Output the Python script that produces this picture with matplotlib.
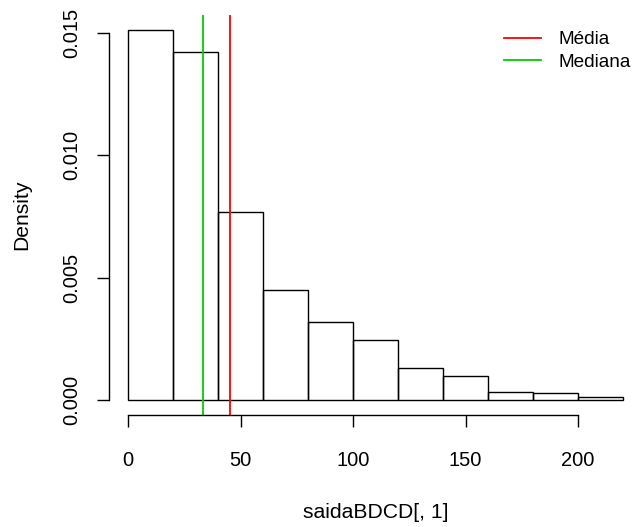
import numpy as np
import matplotlib.pyplot as plt

plt.rcParams['font.family'] = ['Liberation Sans', 'DejaVu Sans']

# histogram bins (width 20) and density of each bin
bin_edges = [0, 20, 40, 60, 80, 100, 120, 140, 160, 180, 200, 220]
densities = [0.01512, 0.01421, 0.00769, 0.00449, 0.00319, 0.00244,
             0.00131, 0.00097, 0.00034, 0.00030, 0.00013]
media = 45.4
mediana = 33.2

x_ticks = [0, 50, 100, 150, 200]
y_ticks = [0.000, 0.005, 0.010, 0.015]
y_ticklabels = ['0.000', '0.005', '0.010', '0.015']

fig = plt.figure(figsize=(6.34, 5.27), dpi=100)
# plot region runs a little past the right edge of the figure
ax = fig.add_axes([108.5 / 634, 1 - 415 / 527, (642.9 - 108.5) / 634, 400 / 527])

edges = np.array(bin_edges)
ax.bar(edges[:-1], densities, width=np.diff(edges), align='edge',
       fill=False, edgecolor='black', linewidth=1.0)

ax.axvline(media, color='#FF0000', linewidth=1.3, label='Média')
ax.axvline(mediana, color='#00CD00', linewidth=1.3, label='Mediana')

# R-style axis extents: 4% padding around the data range
xr = edges[-1] - edges[0]
ymax = max(densities)
ax.set_xlim(edges[0] - 0.04 * xr, edges[-1] + 0.04 * xr)
ax.set_ylim(-0.04 * ymax, ymax * 1.04)

for s in ['top', 'right']:
    ax.spines[s].set_visible(False)
ax.spines['bottom'].set_bounds(x_ticks[0], x_ticks[-1])
ax.spines['left'].set_bounds(y_ticks[0], y_ticks[-1])
ax.spines['bottom'].set_linewidth(1.0)
ax.spines['left'].set_linewidth(1.0)

ax.set_xticks(x_ticks)
ax.set_yticks(y_ticks)
ax.set_yticklabels(y_ticklabels, rotation=90, va='center')
ax.tick_params(axis='x', length=8.6, width=1.0, pad=17, labelsize=14.5)
ax.tick_params(axis='y', length=8.6, width=1.0, pad=11, labelsize=14.5)

ax.set_xlabel('saidaBDCD[, 1]', fontsize=15.2)
ax.set_ylabel('Density', fontsize=15.2)
ax.xaxis.set_label_coords(0.5, -0.245)
ax.xaxis.label.set_va('center')
ax.yaxis.set_label_coords(-0.162, 0.5)
ax.yaxis.label.set_va('center')

# legend without box, anchored in figure pixels
fig.legend(*ax.get_legend_handles_labels(), loc='upper left',
           bbox_to_anchor=(504 / 634, 1 - 31 / 527),
           frameon=False, fontsize=13.7,
           handlelength=1.93, handletextpad=0.96, labelspacing=0.27,
           borderpad=0, borderaxespad=0)

fig.savefig('out.png', dpi=100)
